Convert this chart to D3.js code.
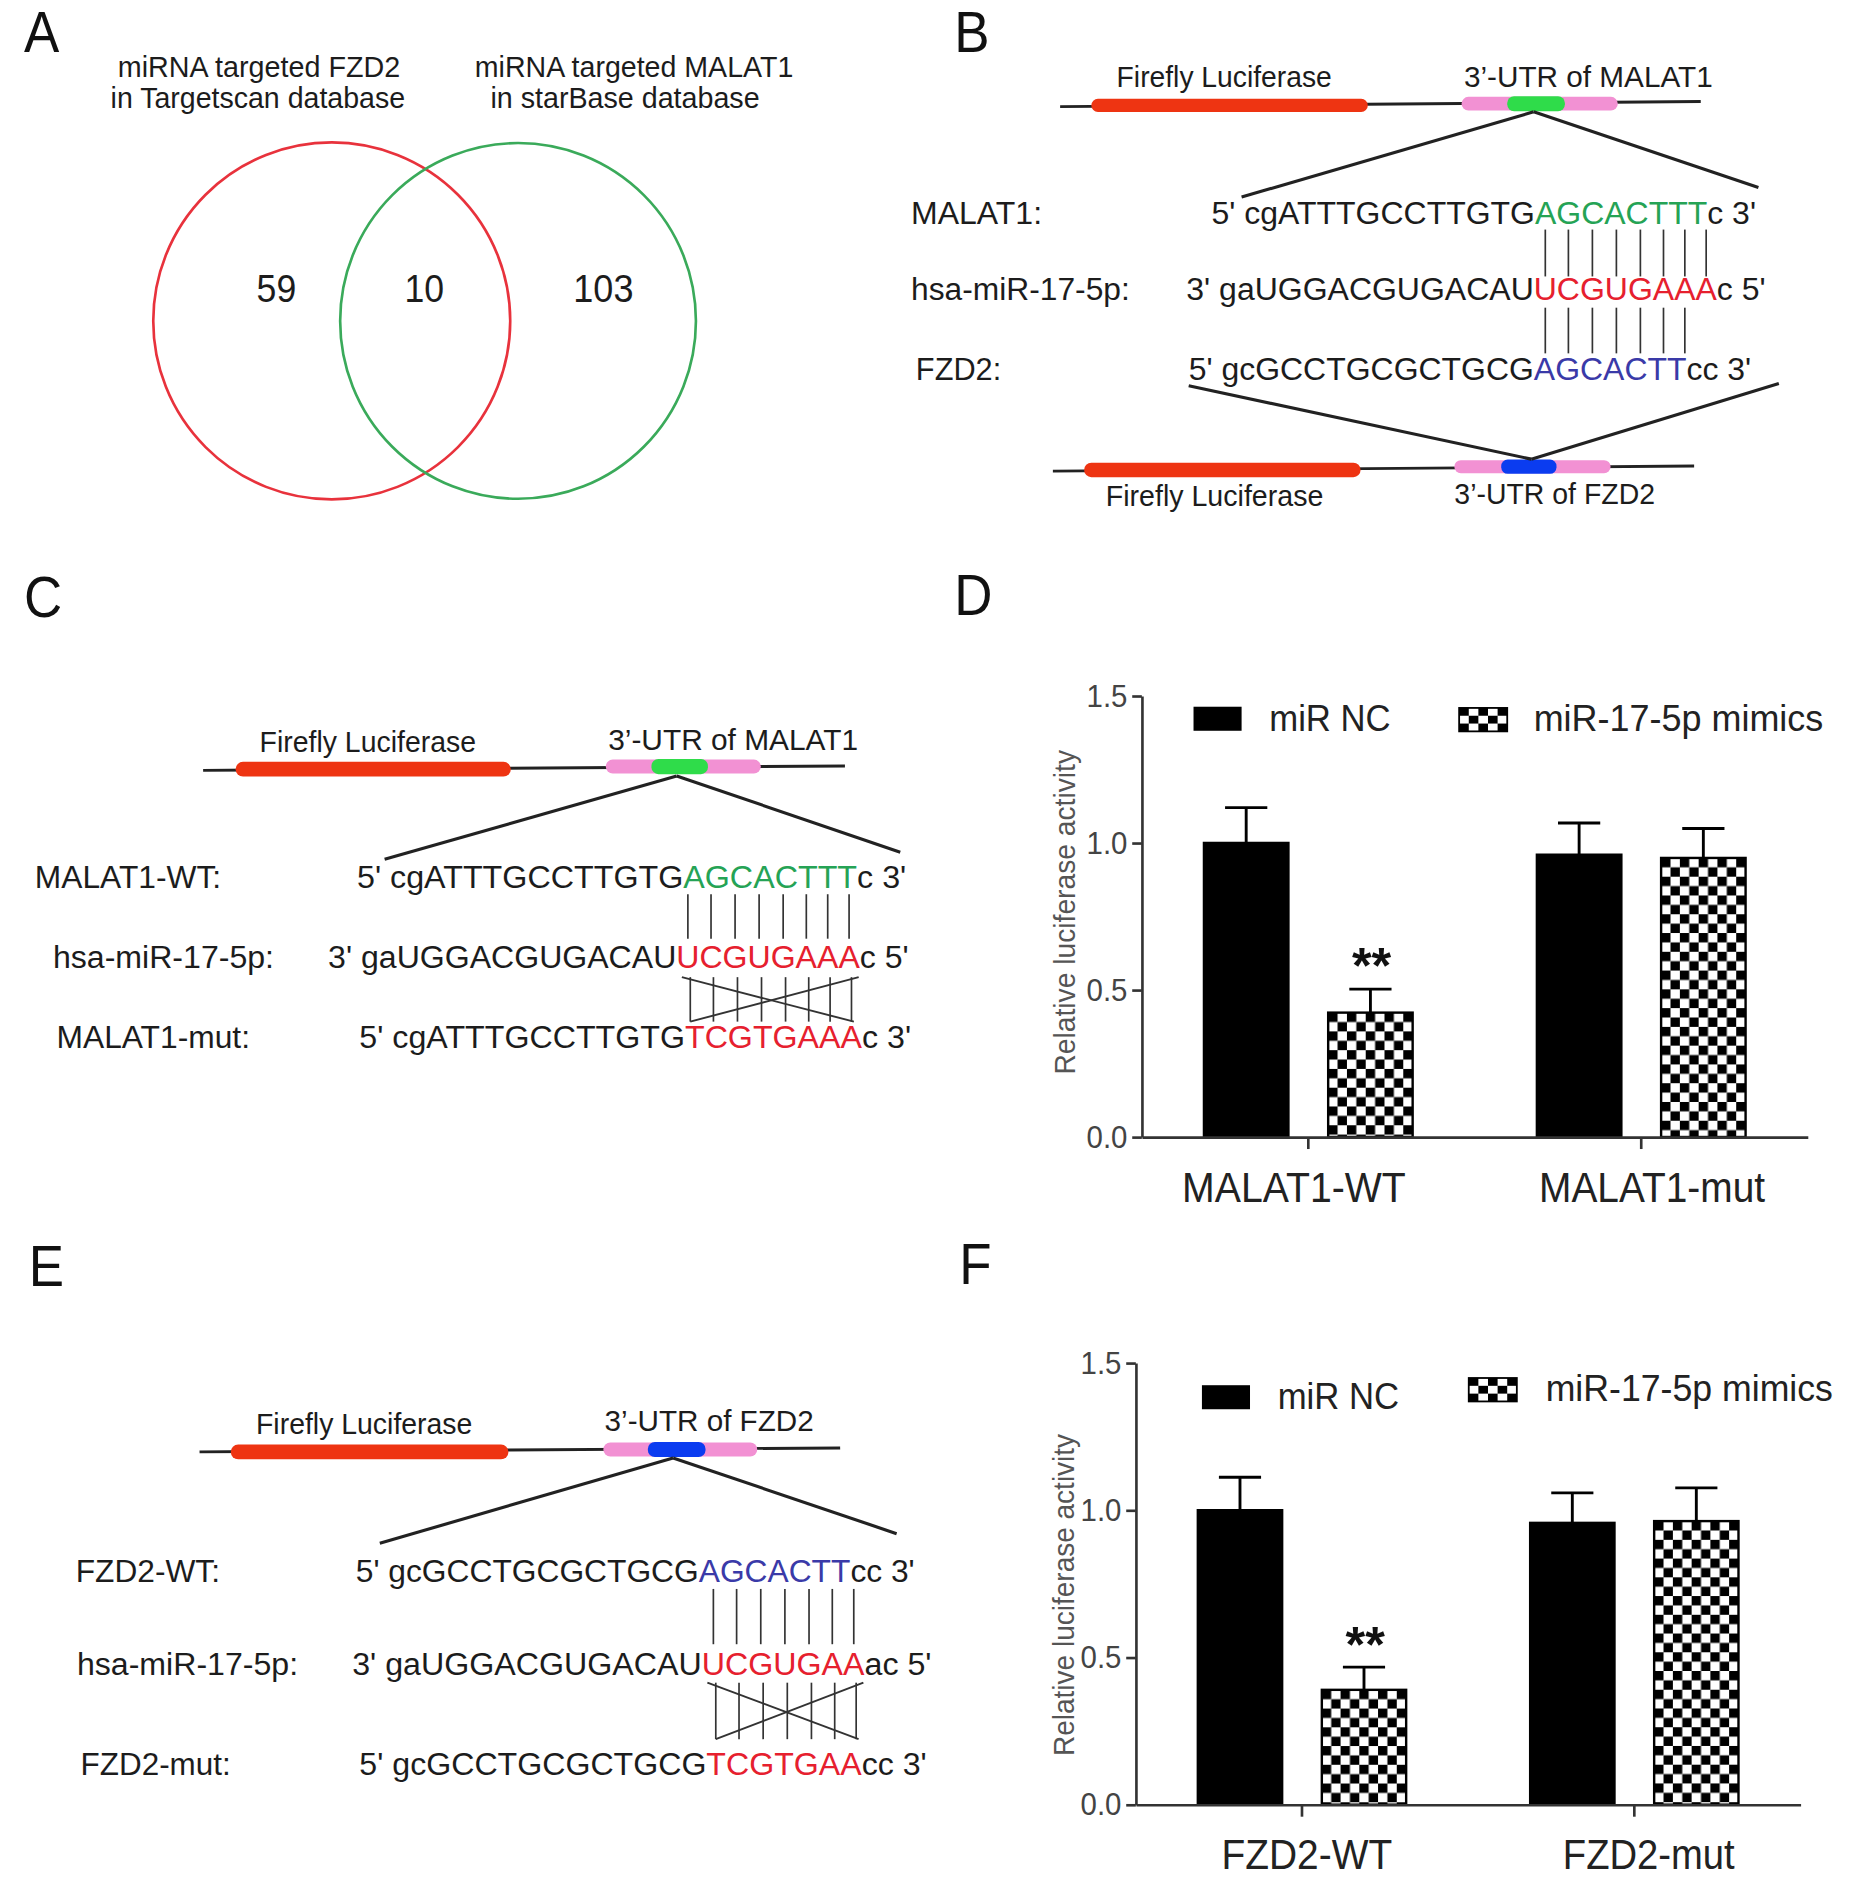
<!DOCTYPE html>
<html>
<head>
<meta charset="utf-8">
<script src="https://cdn.jsdelivr.net/npm/d3@7"></script>
<style>
  body { margin: 0; background: #fff; }
  text { font-family: "Liberation Sans", Arial, Helvetica, sans-serif; }
</style>
</head>
<body>
<div id="root"></div>
<script>
// ---------- data ----------
const vennTitles = [["miRNA targeted FZD2", "in Targetscan database"],
                    ["miRNA targeted MALAT1", "in starBase database"]];
const vennCounts = [59, 10, 103];

const series = ["miR NC", "miR-17-5p mimics"];
const ticksY = [0, 0.5, 1.0, 1.5];

const catsD = ["MALAT1-WT", "MALAT1-mut"];
const ncD = [1.00, 0.96];
const ncErrD = [0.12, 0.108];
const mimD = [0.423, 0.949];
const mimErrD = [0.08, 0.10];

const catsF = ["FZD2-WT", "FZD2-mut"];
const ncF = [1.00, 0.957];
const ncErrF = [0.112, 0.102];
const mimF = [0.39, 0.963];
const mimErrF = [0.077, 0.113];

// sequences: [5' flank, seed region, 3' flank]
const seqMALAT1 = ["5' cgATTTGCCTTGTG", "AGCACTTT", "c 3'"];
const seqMALAT1mut = ["5' cgATTTGCCTTGTG", "TCGTGAAA", "c 3'"];
const seqMiR = ["3' gaUGGACGUGACAU", "UCGUGAAA", "c 5'"];
const seqMiR7 = ["3' gaUGGACGUGACAU", "UCGUGAA", "ac 5'"];
const seqFZD2 = ["5' gcGCCTGCGCTGCG", "AGCACTT", "cc 3'"];
const seqFZD2mut = ["5' gcGCCTGCGCTGCG", "TCGTGAA", "cc 3'"];

// ---------- style ----------
const ink = "#1c1c1c";
const cRed = "#ee3412", cPink = "#f291d3", cGreen = "#2fdc4a", cBlue = "#0b3cf0";
const tGreen = "#25a355", tRed = "#e6202e", tBlue = "#3a3aa8";

const svg = d3.select("#root").append("svg")
  .attr("width", 1863).attr("height", 1881)
  .attr("viewBox", "0 0 1550 1565");

const defs = svg.append("defs");

function label(g, txt, x0, x1, y, size, fill) {
  return g.append("text")
    .attr("x", x0).attr("y", y)
    .attr("font-size", size)
    .attr("fill", fill || ink)
    .attr("textLength", x1 - x0)
    .attr("lengthAdjust", "spacingAndGlyphs")
    .text(txt);
}

// panel letters
[["A", 20, 43], ["B", 794, 43], ["C", 20, 513], ["D", 794, 512], ["E", 24, 1070], ["F", 798, 1068]]
  .forEach(d => svg.append("text").attr("x", d[1]).attr("y", d[2])
    .attr("font-size", 44).attr("fill", "#111")
    .attr("transform", "translate(0," + d[2] + ") scale(1,1.08) translate(0," + (-d[2]) + ")")
    .text(d[0]));

// ---------- A : venn ----------
const gA = svg.append("g");
const vennCircles = [{cx: 276, cy: 267, r: 148.5, c: "#e8323c"}, {cx: 431, cy: 267, r: 148, c: "#3aaa5a"}];
gA.selectAll("circle").data(vennCircles).enter().append("circle")
  .attr("cx", d => d.cx).attr("cy", d => d.cy).attr("r", d => d.r)
  .attr("fill", "none").attr("stroke", d => d.c).attr("stroke-width", 2.2);

label(gA, vennTitles[0][0], 98, 333, 64, 25);
label(gA, vennTitles[0][1], 92, 337, 90, 25);
label(gA, vennTitles[1][0], 395, 660, 64, 25);
label(gA, vennTitles[1][1], 408, 632, 90, 25);

gA.selectAll(".cnt").data(vennCounts).enter().append("text")
  .attr("x", (d, i) => [230, 353, 502][i]).attr("y", 251)
  .attr("text-anchor", "middle").attr("font-size", 33).attr("fill", ink)
  .attr("textLength", (d, i) => [33, 33, 50][i]).attr("lengthAdjust", "spacingAndGlyphs")
  .text(d => d);

// ---------- constructs ----------
function construct(g, c) {
  g.append("line").attr("x1", c.lineL[0]).attr("y1", c.lineL[1])
    .attr("x2", c.lineR[0]).attr("y2", c.lineR[1])
    .attr("stroke", "#222").attr("stroke-width", 2.4);
  g.append("rect").attr("x", c.red[0]).attr("width", c.red[1] - c.red[0])
    .attr("y", c.red[2] - c.red[3] / 2).attr("height", c.red[3])
    .attr("rx", c.red[3] / 2).attr("fill", cRed);
  g.append("rect").attr("x", c.pink[0]).attr("width", c.pink[1] - c.pink[0])
    .attr("y", c.pink[2] - c.pink[3] / 2).attr("height", c.pink[3])
    .attr("rx", c.pink[3] / 2).attr("fill", cPink);
  g.append("rect").attr("x", c.core[0]).attr("width", c.core[1] - c.core[0])
    .attr("y", c.pink[2] - c.pink[3] / 2 - 0.5).attr("height", c.pink[3] + 1)
    .attr("rx", c.pink[3] / 2).attr("fill", c.coreColor);
  label(g, "Firefly Luciferase", c.lab1[0], c.lab1[1], c.lab1[2], 24);
  label(g, c.utr, c.lab2[0], c.lab2[1], c.lab2[2], 24);
  c.zoom.forEach(z => g.append("line")
    .attr("x1", z[0][0]).attr("y1", z[0][1]).attr("x2", z[1][0]).attr("y2", z[1][1])
    .attr("stroke", "#222").attr("stroke-width", 2.6));
}

function seqText(g, parts, x0, x1, y, coreColor) {
  const t = g.append("text").attr("x", x0).attr("y", y)
    .attr("font-size", 26.5).attr("fill", ink)
    .attr("textLength", x1 - x0).attr("lengthAdjust", "spacingAndGlyphs");
  t.append("tspan").text(parts[0]);
  t.append("tspan").attr("fill", coreColor).text(parts[1]);
  t.append("tspan").text(parts[2]);
  return t;
}

function coreCenters(t, parts) {
  const node = t.node();
  const s = parts[0].length;
  return d3.range(parts[1].length).map(i =>
    (node.getStartPositionOfChar(s + i).x + node.getEndPositionOfChar(s + i).x) / 2);
}

function pairLines(g, xs, y0, y1) {
  g.selectAll(null).data(xs).enter().append("line")
    .attr("x1", d => d).attr("x2", d => d).attr("y1", y0).attr("y2", y1)
    .attr("stroke", "#333").attr("stroke-width", 1.4);
}

function crossLines(g, xs, y0, y1) {
  const a = xs[0], b = xs[xs.length - 1];
  [[a - 5, y0, b + 4, y1], [a + 2, y1, b + 8, y0]].forEach(l =>
    g.append("line").attr("x1", l[0]).attr("y1", l[1]).attr("x2", l[2]).attr("y2", l[3])
      .attr("stroke", "#333").attr("stroke-width", 1.6));
}

function seqBlock(g, rows) {
  return rows.map(r => {
    label(g, r.lab, r.l[0], r.l[1], r.y, 26.5);
    return seqText(g, r.seq, r.s[0], r.s[1], r.y, r.color);
  });
}

// ---------- B ----------
const gB = svg.append("g");
construct(gB, {
  lineL: [882, 88.7], lineR: [1415, 84.5],
  red: [908, 1138, 87.7, 11], pink: [1216, 1346, 86.3, 11.4], core: [1254, 1302], coreColor: cGreen,
  lab1: [929, 1108, 72.5], utr: "3’-UTR of MALAT1", lab2: [1218, 1425, 72],
  zoom: [[[1276, 93], [1033, 164]], [[1276, 93], [1463, 156]]]
});
construct(gB, {
  lineL: [876, 392], lineR: [1409.5, 387.7],
  red: [902, 1132, 391, 12], pink: [1210, 1340, 388.3, 10.8], core: [1249, 1295], coreColor: cBlue,
  lab1: [920, 1101, 421], utr: "3’-UTR of FZD2", lab2: [1210, 1377, 419],
  zoom: [[[989, 321], [1274, 382]], [[1480, 319], [1274, 382]]]
});
const tB = seqBlock(gB, [
  {lab: "MALAT1:", l: [758, 867], y: 186, seq: seqMALAT1, s: [1008, 1461], color: tGreen},
  {lab: "hsa-miR-17-5p:", l: [758, 940], y: 250, seq: seqMiR, s: [987, 1469], color: tRed},
  {lab: "FZD2:", l: [762, 833], y: 316, seq: seqFZD2, s: [989, 1457], color: tBlue}
]);
const xB = coreCenters(tB[1], seqMiR);
pairLines(gB, xB, 191, 230);
pairLines(gB, xB.slice(0, 7), 256, 294);

// ---------- C ----------
const gC = svg.append("g");
construct(gC, {
  lineL: [169, 641], lineR: [703, 637.3],
  red: [196, 425, 640, 12.3], pink: [504, 633, 637.8, 11.6], core: [542, 589], coreColor: cGreen,
  lab1: [216, 396, 626], utr: "3’-UTR of MALAT1", lab2: [506, 714, 624],
  zoom: [[[563, 645.6], [320, 715]], [[563, 645.6], [749, 709]]]
});
const tC = seqBlock(gC, [
  {lab: "MALAT1-WT:", l: [29, 184], y: 739, seq: seqMALAT1, s: [297, 754], color: tGreen},
  {lab: "hsa-miR-17-5p:", l: [44, 228], y: 805, seq: seqMiR, s: [273, 756], color: tRed},
  {lab: "MALAT1-mut:", l: [47, 208], y: 872, seq: seqMALAT1mut, s: [299, 758], color: tRed}
]);
const xC = coreCenters(tC[1], seqMiR);
pairLines(gC, xC, 744, 781);
pairLines(gC, xC.map(d => d + 2), 813, 850);
crossLines(gC, xC, 813, 850);

// ---------- E ----------
const gE = svg.append("g");
construct(gE, {
  lineL: [166, 1208], lineR: [699, 1204.7],
  red: [192, 423, 1208, 12.3], pink: [502, 630, 1206, 11.6], core: [539, 587], coreColor: cBlue,
  lab1: [213, 393, 1193], utr: "3’-UTR of FZD2", lab2: [503, 677, 1191],
  zoom: [[[560, 1213], [316, 1284]], [[560, 1213], [746, 1276]]]
});
const tE = seqBlock(gE, [
  {lab: "FZD2-WT:", l: [63, 183], y: 1316, seq: seqFZD2, s: [296, 761], color: tBlue},
  {lab: "hsa-miR-17-5p:", l: [64, 248], y: 1394, seq: seqMiR7, s: [293, 775], color: tRed},
  {lab: "FZD2-mut:", l: [67, 192], y: 1477, seq: seqFZD2mut, s: [299, 771], color: tRed}
]);
const xE = coreCenters(tE[1], seqMiR7);
pairLines(gE, xE, 1322, 1368);
pairLines(gE, xE.map(d => d + 2), 1400, 1447);
crossLines(gE, xE, 1400, 1447);

// ---------- bar charts ----------
function barChart(id, cfg) {
  const g = svg.append("g");
  const y = d3.scaleLinear().domain([0, 1.5]).range([cfg.y0, cfg.y1]);
  const x0 = d3.scaleBand().domain(cfg.cats).range([cfg.xL, cfg.xR]);
  const x1 = d3.scaleBand().domain(series).range([0, x0.bandwidth()])
    .paddingInner(0.32).paddingOuter(0.5);
  const cell = x1.bandwidth() / 9;

  const rows = [];
  cfg.cats.forEach((c, i) => {
    rows.push({cat: c, key: series[0], v: cfg.nc[i], e: cfg.ncErr[i]});
    rows.push({cat: c, key: series[1], v: cfg.mim[i], e: cfg.mimErr[i]});
  });
  rows.forEach((d, i) => {
    d.x = x0(d.cat) + x1(d.key);
    d.pid = id + "-chk-" + i;
  });

  // checker patterns, one per hatched bar so the squares start at the bar corner
  const pats = defs.selectAll(null).data(rows.filter(d => d.key === series[1])).enter()
    .append("pattern").attr("id", d => d.pid)
    .attr("patternUnits", "userSpaceOnUse")
    .attr("x", d => d.x).attr("y", d => y(d.v))
    .attr("width", 2 * cell).attr("height", 2 * cell);
  pats.append("rect").attr("width", 2 * cell).attr("height", 2 * cell).attr("fill", "#fff");
  pats.append("rect").attr("width", cell).attr("height", cell).attr("fill", "#000");
  pats.append("rect").attr("x", cell).attr("y", cell).attr("width", cell).attr("height", cell).attr("fill", "#000");

  // error bars
  const eb = g.selectAll(".err").data(rows).enter().append("g").attr("class", "err")
    .attr("stroke", "#000").attr("stroke-width", 2.4);
  eb.append("line")
    .attr("x1", d => d.x + x1.bandwidth() / 2).attr("x2", d => d.x + x1.bandwidth() / 2)
    .attr("y1", d => y(d.v)).attr("y2", d => y(d.v + d.e));
  eb.append("line")
    .attr("x1", d => d.x + x1.bandwidth() / 4).attr("x2", d => d.x + x1.bandwidth() * 3 / 4)
    .attr("y1", d => y(d.v + d.e)).attr("y2", d => y(d.v + d.e));

  // bars
  g.selectAll(".bar").data(rows).enter().append("rect").attr("class", "bar")
    .attr("x", d => d.x).attr("width", x1.bandwidth())
    .attr("y", d => y(d.v)).attr("height", d => y(0) - y(d.v))
    .attr("fill", d => d.key === series[0] ? "#000" : "url(#" + d.pid + ")")
    .attr("stroke", "#000").attr("stroke-width", 2);

  // significance
  g.append("text")
    .attr("x", x0(cfg.cats[0]) + x1(series[1]) + x1.bandwidth() / 2 + 1)
    .attr("y", y(cfg.mim[0] + cfg.mimErr[0]) + cfg.starDy)
    .attr("text-anchor", "middle").attr("font-size", 42).attr("font-weight", "bold")
    .attr("fill", "#111").text("**");

  // axes
  const ya = g.append("g").attr("transform", "translate(" + cfg.xL + ",0)")
    .call(d3.axisLeft(y).tickValues(ticksY).tickFormat(d3.format(".1f"))
      .tickSize(8).tickSizeOuter(0).tickPadding(4));
  const xa = g.append("g").attr("transform", "translate(0," + cfg.y0 + ")")
    .call(d3.axisBottom(x0).tickSize(10).tickSizeOuter(0).tickPadding(19));
  [ya, xa].forEach(a => {
    a.selectAll("path, line").attr("stroke", "#333").attr("stroke-width", 2.2);
    a.selectAll("text").attr("font-family", null);
  });
  ya.selectAll("text").attr("font-size", 26).attr("fill", "#444")
    .attr("textLength", 34).attr("lengthAdjust", "spacingAndGlyphs");
  xa.selectAll("text").attr("font-size", 35).attr("fill", "#222")
    .attr("dx", (d, i) => cfg.catDx[i])
    .attr("textLength", (d, i) => cfg.catW[i]).attr("lengthAdjust", "spacingAndGlyphs");

  g.append("text")
    .attr("transform", "translate(" + cfg.ylab[0] + "," + cfg.ylab[1] + ") rotate(-90)")
    .attr("text-anchor", "middle").attr("dy", "0.35em")
    .attr("font-size", 25).attr("fill", "#555")
    .attr("textLength", cfg.ylab[2]).attr("lengthAdjust", "spacingAndGlyphs")
    .text("Relative luciferase activity");

  // legend
  const lg = g.append("g");
  defs.append("pattern").attr("id", id + "-legchk")
    .attr("patternUnits", "userSpaceOnUse")
    .attr("x", cfg.leg.chk[0]).attr("y", cfg.leg.chk[1])
    .attr("width", 16).attr("height", 13)
    .call(p => {
      p.append("rect").attr("width", 16).attr("height", 13).attr("fill", "#fff");
      p.append("rect").attr("width", 8).attr("height", 6.5).attr("fill", "#000");
      p.append("rect").attr("x", 8).attr("y", 6.5).attr("width", 8).attr("height", 6.5).attr("fill", "#000");
    });
  lg.append("rect").attr("x", cfg.leg.nc[0]).attr("y", cfg.leg.nc[1])
    .attr("width", 40).attr("height", 20).attr("fill", "#000");
  lg.append("rect").attr("x", cfg.leg.chk[0]).attr("y", cfg.leg.chk[1])
    .attr("width", 40).attr("height", 19.5).attr("fill", "url(#" + id + "-legchk)")
    .attr("stroke", "#000").attr("stroke-width", 1.5);
  label(lg, series[0], cfg.leg.t1[0], cfg.leg.t1[1], cfg.leg.t1[2], 31, "#222");
  label(lg, series[1], cfg.leg.t2[0], cfg.leg.t2[1], cfg.leg.t2[2], 31, "#222");
}

barChart("D", {
  cats: catsD, nc: ncD, ncErr: ncErrD, mim: mimD, mimErr: mimErrD,
  xL: 950, xR: 1504, y0: 946, y1: 579, catDx: [-12, 9], catW: [186, 188], starDy: -5, ylab: [886, 759, 270],
  leg: {nc: [993, 588], chk: [1214, 589], t1: [1056, 1157, 608], t2: [1276, 1517, 608]}
});
barChart("F", {
  cats: catsF, nc: ncF, ncErr: ncErrF, mim: mimF, mimErr: mimErrF,
  xL: 945, xR: 1498, y0: 1501.5, y1: 1134, catDx: [4, 12], catW: [142, 143], starDy: -4, ylab: [885, 1327, 268],
  leg: {nc: [1000, 1152.5], chk: [1222, 1146.5], t1: [1063, 1164, 1172], t2: [1286, 1525, 1166]}
});
</script>
</body>
</html>
